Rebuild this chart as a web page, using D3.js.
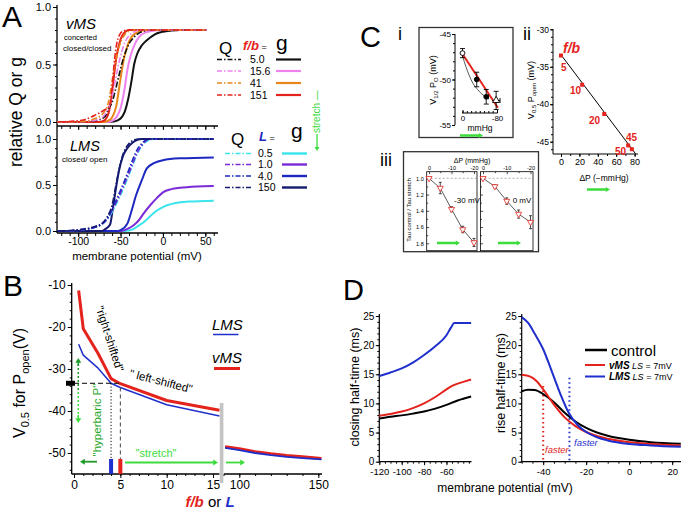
<!DOCTYPE html>
<html>
<head>
<meta charset="utf-8">
<script src="https://cdn.jsdelivr.net/npm/d3@7/dist/d3.min.js"></script>
<style>html,body{margin:0;padding:0;background:#fff;}</style>
</head>
<body>
<svg id="chart" width="683" height="513"></svg>
<script>
// ================= DATA =================
// Panel A top (vMS): [membrane potential mV, relative value]
const vmsFb = ["5.0", "15.6", "41", "151"];
const vmsQ5   = [[-125,0],[-90,0.005],[-75,0.02],[-68,0.05],[-64,0.12],[-60,0.17],[-56,0.28],[-52,0.4],[-48,0.52],[-44,0.61],[-40,0.68],[-35,0.73],[-30,0.765],[-25,0.785],[-15,0.8],[52,0.8]];
const vmsQ15  = [[-125,0],[-90,0.005],[-75,0.025],[-68,0.07],[-62,0.17],[-57,0.33],[-53,0.48],[-49,0.6],[-45,0.69],[-40,0.75],[-35,0.78],[-28,0.8],[52,0.8]];
const vmsQ41  = [[-125,0],[-95,0.005],[-80,0.03],[-70,0.08],[-64,0.18],[-59,0.4],[-55,0.56],[-51,0.67],[-46,0.75],[-40,0.79],[-33,0.8],[52,0.8]];
const vmsQ151 = [[-125,0],[-105,0.008],[-93,0.02],[-80,0.06],[-70,0.1],[-63,0.14],[-60,0.3],[-57,0.55],[-54,0.7],[-51,0.76],[-47,0.79],[-42,0.8],[52,0.8]];
const vmsG5   = [[-125,0],[-65,0],[-58,0.004],[-54,0.012],[-50,0.03],[-45,0.09],[-41,0.2],[-37,0.36],[-34,0.5],[-30,0.6],[-25,0.665],[-20,0.705],[-15,0.735],[-10,0.76],[0,0.785],[10,0.795],[20,0.8],[52,0.8]];
const vmsG15  = [[-125,0],[-65,0],[-60,0.01],[-55,0.04],[-50,0.12],[-45,0.3],[-42,0.45],[-38,0.58],[-33,0.68],[-28,0.74],[-20,0.78],[-10,0.795],[0,0.8],[52,0.8]];
const vmsG41  = [[-125,0],[-70,0],[-65,0.01],[-60,0.04],[-55,0.14],[-50,0.38],[-46,0.55],[-42,0.66],[-37,0.74],[-30,0.78],[-20,0.8],[52,0.8]];
const vmsG151 = [[-125,0],[-76,0],[-72,0.005],[-68,0.02],[-64,0.08],[-60,0.25],[-57,0.45],[-54,0.6],[-50,0.72],[-45,0.78],[-40,0.8],[52,0.8]];

// Panel A bottom (LMS)
const lmsL = ["0.5", "1.0", "4.0", "150"];
const lmsQ05  = [[-125,0],[-105,0.005],[-90,0.02],[-80,0.04],[-72,0.07],[-65,0.13],[-58,0.24],[-52,0.35],[-46,0.47],[-40,0.61],[-35,0.73],[-30,0.84],[-25,0.92],[-20,0.97],[-15,0.99],[-10,1],[60,1]];
const lmsQ1   = [[-125,0],[-105,0.005],[-90,0.02],[-80,0.04],[-72,0.075],[-65,0.14],[-58,0.26],[-52,0.37],[-46,0.5],[-40,0.63],[-35,0.75],[-30,0.86],[-25,0.93],[-20,0.98],[-15,1],[60,1]];
const lmsQ4   = [[-125,0],[-105,0.005],[-90,0.02],[-80,0.04],[-72,0.08],[-65,0.15],[-58,0.28],[-52,0.4],[-46,0.53],[-40,0.67],[-35,0.79],[-30,0.89],[-25,0.95],[-20,0.99],[-15,1],[60,1]];
const lmsQ150 = [[-125,0],[-110,0.005],[-95,0.02],[-80,0.05],[-72,0.08],[-66,0.15],[-60,0.28],[-55,0.52],[-50,0.74],[-46,0.86],[-40,0.95],[-34,0.99],[-28,1],[60,1]];
const lmsG05  = [[-125,0],[-45,0],[-40,0.005],[-35,0.02],[-30,0.05],[-22,0.1],[-15,0.16],[-9,0.21],[0,0.26],[5,0.28],[15,0.305],[30,0.32],[60,0.33]];
const lmsG1   = [[-125,0],[-50,0],[-45,0.01],[-40,0.03],[-35,0.06],[-30,0.1],[-22,0.2],[-15,0.28],[-7,0.36],[0,0.42],[10,0.455],[20,0.47],[40,0.485],[60,0.49]];
const lmsG4   = [[-125,0],[-55,0],[-50,0.01],[-42,0.08],[-37,0.22],[-32,0.38],[-25,0.55],[-19,0.68],[-10,0.74],[0,0.77],[20,0.79],[60,0.8]];
const lmsG150 = [[-125,0],[-72,0],[-68,0.02],[-64,0.05],[-62,0.08],[-59,0.25],[-56,0.43],[-52,0.65],[-47,0.82],[-42,0.9],[-36,0.96],[-30,0.99],[-25,1],[60,1]];
const aXTicks = [-100, -50, 0, 50];
const aYTicks = [0, 0.5, 1];

// Panel B: f/b or L vs V0.5
const bX1   = [0.5, 1, 2.6, 4, 5, 10, 15.7];
const bVms1 = [-11.3, -20.4, -26.3, -32.3, -33.5, -37.5, -39.8];
const bLms1 = [-24.1, -26.7, -29.8, -33.4, -34.4, -38.5, -41.2];
const bX2   = [91, 100, 110, 120, 130, 140, 152];
const bVms2 = [-48.5, -49.0, -49.7, -50.2, -50.6, -50.9, -51.3];
const bLms2 = [-48.8, -49.3, -50.0, -50.5, -50.9, -51.2, -51.5];
const bXTicks1 = [0, 5, 10, 15];
const bXTicks2 = [100, 150];
const bYTicks = [-10, -20, -30, -40, -50];

// Panel C i
const ciP = [0, -33, -55, -78];
const ciV = [-47.1, -50.0, -51.9, -52.3];
const ciErrV = [0.5, 0.8, 0.8, 1.0];
const ciErrP = [0, 0, 5, 9];
const ciFitP = [0, -82];
const ciFitV = [-47.2, -53.1];
const ciCurveP = [0, -8, -16, -24, -35, -45, -55];
const ciCurveV = [-47.4, -48.6, -49.6, -50.4, -51.1, -51.6, -51.9];
// Panel C ii
const ciiP = [0, 23, 47, 73, 77];
const ciiV = [-33.5, -37.4, -41.3, -45.5, -46.0];
const ciiLbl = ["5", "10", "20", "45", "50"];
const ciiFitP = [0, 81];
const ciiFitV = [-33.4, -46.6];
// Panel C iii
const ciiiP = [0, -5, -10, -15, -20];
const ciiiM30 = [1.0, 1.12, 1.38, 1.63, 1.79];
const ciiiM30Err = [0, 0.07, 0.03, 0.04, 0.05];
const ciii0 = [1.0, 1.10, 1.28, 1.44, 1.54];
const ciii0Err = [0, 0.02, 0.04, 0.05, 0.08];

// Panel D left: closing half-time (ms)
const dClControl = [[-120,7.4],[-110,7.7],[-100,7.95],[-90,8.25],[-80,8.6],[-70,9.1],[-60,9.75],[-50,10.5],[-45,10.8],[-38,11.2]];
const dClVms     = [[-120,7.9],[-110,8.2],[-100,8.6],[-90,9.2],[-80,10.0],[-70,11.1],[-60,12.4],[-55,13.0],[-50,13.4],[-45,13.7],[-38,14.1]];
const dClLms     = [[-120,14.7],[-110,15.3],[-100,16.0],[-90,17.0],[-80,18.3],[-70,19.8],[-60,21.7],[-56,23.0],[-53,23.8],[-45,23.8],[-38,23.8]];
// Panel D right: rise half-time (ms)
const dRiControl = [[-50,12.1],[-47,12.35],[-44,12.3],[-40,11.6],[-35,10.2],[-30,8.4],[-25,6.9],[-20,5.8],[-15,5.0],[-10,4.45],[-5,4.05],[0,3.75],[10,3.35],[24,3.1]];
const dRiVms     = [[-50,14.9],[-46,14.6],[-43,13.8],[-40,12.4],[-35,9.8],[-30,7.6],[-25,6.1],[-20,5.1],[-15,4.4],[-10,3.95],[0,3.35],[10,3.05],[24,2.8]];
const dRiLms     = [[-50,24.8],[-47,23.8],[-44,22.0],[-40,19.3],[-36,15.5],[-32,11.6],[-28,8.3],[-24,6.3],[-20,5.1],[-15,4.2],[-10,3.65],[0,3.05],[10,2.8],[24,2.55]];
const dYTicks = [0, 5, 10, 15, 20, 25];
const dXTicksL = [-120, -100, -80, -60];
const dXTicksR = [-40, -20, 0, 20];

// ================= DRAWING =================
const FONT = '"Liberation Sans", Arial, Helvetica, sans-serif';
const RED = "#e3231c", BLUE = "#1f2fcc", GREEN = "#3ddc3d", DKGREEN = "#1f9a2a";
const svg = d3.select("#chart");
svg.append("rect").attr("width", 683).attr("height", 513).attr("fill", "#fff");

function T(p, x, y, s, fs, o = {}) {
  const t = p.append("text").attr("x", x).attr("y", y).attr("font-size", fs)
    .attr("font-family", FONT).attr("fill", o.fill || "#000").text(s);
  if (o.anchor) t.attr("text-anchor", o.anchor);
  if (o.italic) t.attr("font-style", "italic");
  if (o.bold) t.attr("font-weight", "bold");
  if (o.rotate != null) t.attr("transform", `rotate(${o.rotate},${x},${y})`);
  return t;
}
function rich(p, x, y, parts, o = {}) {
  const t = p.append("text").attr("x", x).attr("y", y).attr("font-family", FONT);
  if (o.anchor) t.attr("text-anchor", o.anchor);
  if (o.rotate != null) t.attr("transform", `rotate(${o.rotate},${x},${y})`);
  parts.forEach(pt => {
    const s = t.append("tspan").text(pt.s).attr("font-size", pt.fs).attr("fill", pt.fill || "#000");
    if (pt.italic) s.attr("font-style", "italic");
    if (pt.bold) s.attr("font-weight", "bold");
    if (pt.dy) s.attr("dy", pt.dy);
  });
  return t;
}
function L(p, x1, y1, x2, y2, c = "#000", w = 1, dash = null) {
  return p.append("line").attr("x1", x1).attr("y1", y1).attr("x2", x2).attr("y2", y2)
    .attr("stroke", c).attr("stroke-width", w).attr("stroke-dasharray", dash);
}
function curve(p, data, x, y, color, w, dash, cv) {
  p.append("path").datum(data)
    .attr("d", d3.line().x(d => x(d[0])).y(d => y(d[1])).curve(cv || d3.curveMonotoneX))
    .attr("fill", "none").attr("stroke", color).attr("stroke-width", w)
    .attr("stroke-dasharray", dash || null).attr("stroke-linejoin", "round");
}
function arrow(p, x1, y1, x2, y2, c, w, hs, dash) {
  const dx = x2 - x1, dy = y2 - y1, len = Math.hypot(dx, dy), ux = dx / len, uy = dy / len;
  const hl = hs * 1.6;
  L(p, x1, y1, x2 - ux * hl * 0.8, y2 - uy * hl * 0.8, c, w, dash);
  const bx = x2 - ux * hl, by = y2 - uy * hl;
  p.append("polygon").attr("points", `${x2},${y2} ${bx - uy * hs},${by + ux * hs} ${bx + uy * hs},${by - ux * hs}`).attr("fill", c);
}
const gens = { left: d3.axisLeft, right: d3.axisRight, top: d3.axisTop, bottom: d3.axisBottom };
function axis(p, orient, scale, pos, o) {
  const vert = orient === "left" || orient === "right";
  const tr = vert ? `translate(${pos},0)` : `translate(0,${pos})`;
  if (o.minor) {
    const m = p.append("g").attr("transform", tr)
      .call(gens[orient](scale).tickValues(o.minor).tickSize(o.minorSize ?? 2).tickFormat(""));
    m.select(".domain").remove();
    m.selectAll("line").attr("stroke", "#000").attr("stroke-width", o.sw ?? 1);
  }
  const a = p.append("g").attr("transform", tr)
    .call(gens[orient](scale).tickValues(o.values).tickSize(o.size ?? 4).tickPadding(o.pad ?? 2)
      .tickFormat(o.labels === false ? "" : (o.fmt || (d => String(d)))));
  a.select(".domain").remove();
  a.attr("font-family", FONT).attr("font-size", o.fs ?? 11);
  a.selectAll("line").attr("stroke", "#000").attr("stroke-width", o.sw ?? 1);
  a.selectAll("text").attr("fill", "#000");
  return a;
}
const tenths = d3.range(0, 11).map(i => i / 10);

// ---------- Panel A ----------
const A = svg.append("g");
const xA = d3.scaleLinear().domain([-125, 65]).range([57, 218]);
const yAt = d3.scaleLinear().domain([0, 1]).range([122, 7]);
const yAb = d3.scaleLinear().domain([0, 1]).range([231, 139]);
L(A, 57, 5, 57, 233, "#000", 1.3);
L(A, 57, 126, 218, 126, "#000", 1.3);
L(A, 57, 233, 218, 233, "#000", 1.3);
axis(A, "left", yAt, 57, { values: aYTicks, size: 4, fmt: d => d.toFixed(1), fs: 11, minor: tenths });
axis(A, "left", yAb, 57, { values: aYTicks, size: 4, fmt: d => d.toFixed(1), fs: 11, minor: tenths });
axis(A, "bottom", xA, 126, { values: aXTicks, size: 4, labels: false, minor: d3.range(-120, 61, 10), minorSize: 3 });
axis(A, "bottom", xA, 233, { values: aXTicks, size: 4, pad: 1, fs: 10.5, minor: d3.range(-120, 61, 10), minorSize: 3 });

const vmsColors = ["#111111", "#ee82ee", "#e8861c", RED];
const lmsColors = ["#3ae4ec", "#7a2ad6", "#1c28c0", "#141a6e"];
const DD = "6,2,1.5,2";
[vmsG5, vmsG15, vmsG41, vmsG151].forEach((d, i) => curve(A, d, xA, yAt, vmsColors[i], 2));
[vmsQ5, vmsQ15, vmsQ41, vmsQ151].forEach((d, i) => curve(A, d, xA, yAt, vmsColors[i], 1.6, DD));
[lmsG05, lmsG1, lmsG4, lmsG150].forEach((d, i) => curve(A, d, xA, yAb, lmsColors[i], 2));
[lmsQ05, lmsQ1, lmsQ4, lmsQ150].forEach((d, i) => curve(A, d, xA, yAb, lmsColors[i], 1.6, DD));

T(A, 2, 27, "A", 30);
T(A, 22, 112, "relative Q or g", 17.5, { anchor: "middle", rotate: -90 });
T(A, 137, 260, "membrane potential (mV)", 11.5, { anchor: "middle" });
T(A, 66, 29, "vMS", 15, { italic: true });
T(A, 64, 40, "concerted", 7.5);
T(A, 63, 51, "closed/closed", 8);
T(A, 70, 151, "LMS", 14.5, { italic: true });
T(A, 62, 162, "closed/ open", 8);

// legends A
T(A, 219, 54, "Q", 17);
rich(A, 243, 50, [{ s: "f/b", fs: 13, bold: true, italic: true, fill: RED }, { s: " =", fs: 9 }]);
T(A, 276, 50, "g", 21);
vmsFb.forEach((s, i) => {
  const yy = [59.5, 71, 83, 95][i];
  L(A, 217, yy, 241, yy, vmsColors[i], 1.6, "5,2,1.5,2");
  T(A, 250, yy + 3.5, s, 10.5);
  L(A, 276, yy, 301, yy, vmsColors[i], 2.2);
});
T(A, 231, 145, "Q", 17);
rich(A, 259, 141, [{ s: "L", fs: 13, bold: true, italic: true, fill: "#1c28c0" }, { s: " =", fs: 9 }]);
T(A, 291, 138, "g", 21);
lmsL.forEach((s, i) => {
  const yy = [153.5, 164.5, 176, 187.5][i];
  L(A, 225, yy, 253, yy, lmsColors[i], 1.6, "5,2,1.5,2");
  T(A, 258, yy + 3.5, s, 10.5);
  L(A, 282, yy, 307, yy, lmsColors[i], 2.4);
});
T(A, 320, 133, "stretch \u2014", 10, { rotate: -90, fill: GREEN });
arrow(A, 317, 134, 317, 151, GREEN, 1.3, 2.5);

// ---------- Panel B ----------
const B = svg.append("g");
const xB1 = d3.scaleLinear().domain([0, 16]).range([74, 222.3]);
const xB2 = d3.scaleLinear().domain([100, 150]).range([239.3, 318.3]);
const yB = d3.scaleLinear().domain([-10, -50]).range([285, 453]);
L(B, 71.7, 283, 71.7, 474, "#000", 1.3);
L(B, 71.7, 474, 219.5, 474, "#000", 1.3);
L(B, 224, 474, 322, 474, "#000", 1.3);
axis(B, "left", yB, 71.7, { values: bYTicks, size: 4, fs: 12, minor: d3.range(-54, -9, 2) });
axis(B, "bottom", xB1, 474, { values: bXTicks1, size: 4, fs: 12, minor: d3.range(0, 17, 1) });
axis(B, "bottom", xB2, 474, { values: bXTicks2, size: 4, fs: 12, minor: d3.range(90, 151, 10) });

const bl1 = bX1.map((v, i) => [v, bLms1[i]]), br1 = bX1.map((v, i) => [v, bVms1[i]]);
const bl2 = bX2.map((v, i) => [v, bLms2[i]]), br2 = bX2.map((v, i) => [v, bVms2[i]]);
curve(B, br1, xB1, yB, RED, 3, null, d3.curveLinear);
curve(B, bl1, xB1, yB, BLUE, 1.5, null, d3.curveLinear);
curve(B, br2, xB2, yB, RED, 3, null, d3.curveLinear);
curve(B, bl2, xB2, yB, BLUE, 1.8, null, d3.curveLinear);

B.append("rect").attr("x", 219.8).attr("y", 403).attr("width", 3.6).attr("height", 80).attr("fill", "#c4c4c4");
// reference lines
L(B, 74, yB(-33.4), xB1(5), yB(-33.4), "#000", 1, "5,3");
B.append("rect").attr("x", 66).attr("y", yB(-33.4) - 2.5).attr("width", 9).attr("height", 5).attr("fill", "#000");
L(B, xB1(4), yB(-33.4), xB1(4), 459, "#000", 1, "1.2,2");
L(B, xB1(5), yB(-34.4), xB1(5), 459, "#444", 1, "4,3");
B.append("rect").attr("x", xB1(4) - 2).attr("y", 459).attr("width", 4).attr("height", 15).attr("fill", BLUE);
B.append("rect").attr("x", xB1(5) - 2).attr("y", 459).attr("width", 4).attr("height", 15).attr("fill", RED);
// green annotations
L(B, 78.3, 364, 78.3, 392, DKGREEN, 1.5, "2,2");
L(B, 78.3, 392, 78.3, 417, GREEN, 1.5, "2,2");
arrow(B, 78.3, 366, 78.3, 358, DKGREEN, 1.5, 3);
arrow(B, 78.3, 415, 78.3, 423, GREEN, 1.5, 3);
T(B, 101, 420, "\"hyperbaric P\"", 11.5, { anchor: "middle", rotate: -90, fill: "#2aa82a" });
arrow(B, 97, 461.7, 80, 461.7, DKGREEN, 1.8, 3);
arrow(B, 125, 462.5, 218, 462.5, GREEN, 1.8, 3);
arrow(B, 226, 462.5, 245, 462.5, GREEN, 1.8, 3);
T(B, 156, 457, "\"stretch\"", 11, { anchor: "middle", fill: GREEN });
// text
T(B, 106, 340, "\"right-shifted\"", 11.5, { anchor: "middle", rotate: 72 });
T(B, 160, 385, "\" left-shifted\"", 11.5, { anchor: "middle", rotate: 14.5 });
T(B, 212, 330, "LMS", 15, { italic: true });
L(B, 213, 334.5, 238.5, 334.5, BLUE, 1.5);
T(B, 212, 363, "vMS", 15, { italic: true });
L(B, 214, 368.5, 240, 368.5, RED, 3);
T(B, 3, 296, "B", 30);
rich(B, 25, 383, [
  { s: "V", fs: 16 }, { s: "0.5", fs: 11, dy: 4 }, { s: " for  P", fs: 16, dy: -4 },
  { s: "open", fs: 11, dy: 4 }, { s: "(V)", fs: 16, dy: -4 }
], { anchor: "middle", rotate: -90 });
rich(B, 210, 507, [
  { s: "f/b", fs: 15, bold: true, italic: true, fill: RED }, { s: " or ", fs: 15 },
  { s: "L", fs: 15, bold: true, italic: true, fill: BLUE }
], { anchor: "middle" });

// ---------- Panel C ----------
const C = svg.append("g");
T(C, 360, 47, "C", 29);
T(C, 398, 40, "i", 18);
T(C, 523, 40, "ii", 18);
T(C, 380, 166, "iii", 18);

// C i
C.append("rect").attr("x", 419).attr("y", 27.5).attr("width", 94).attr("height", 110)
  .attr("fill", "none").attr("stroke", "#333").attr("stroke-width", 1.3);
const xCi = d3.scaleLinear().domain([0, -80]).range([462.5, 497]);
const yCi = d3.scaleLinear().domain([-45, -55]).range([34, 125]);
L(C, 455, 34, 455, 125, "#000", 1);
axis(C, "left", yCi, 455, { values: [-45, -50, -55], size: 3, fs: 8, pad: 1, minor: d3.range(-55, -44, 1) });
L(C, 462, 113, 497.5, 113, "#000", 1);
axis(C, "bottom", xCi, 113, { values: [0, -80], size: -3, fs: 8, pad: 2, minor: d3.range(-80, 1, 10), minorSize: -2 });
T(C, 480, 131, "mmHg", 8.5, { anchor: "middle" });
rich(C, 436, 80, [{ s: "V", fs: 9 }, { s: "1/2", fs: 6, dy: 2 }, { s: " P", fs: 9, dy: -2 }, { s: "O", fs: 6, dy: 2 }, { s: " (mV)", fs: 9, dy: -2 }], { anchor: "middle", rotate: -90 });
curve(C, ciCurveP.map((p, i) => [p, ciCurveV[i]]), xCi, yCi, "#444", 0.9);
curve(C, ciFitP.map((p, i) => [p, ciFitV[i]]), xCi, yCi, RED, 2, null, d3.curveLinear);
ciP.forEach((p, i) => {
  const cx = xCi(p), cy = yCi(ciV[i]);
  if (ciErrV[i]) {
    const y1 = yCi(ciV[i] + ciErrV[i]), y2 = yCi(ciV[i] - ciErrV[i]);
    L(C, cx, y1, cx, y2, "#000", 0.9); L(C, cx - 2.5, y1, cx + 2.5, y1, "#000", 0.9); L(C, cx - 2.5, y2, cx + 2.5, y2, "#000", 0.9);
  }
  if (ciErrP[i]) {
    const x1 = xCi(p + ciErrP[i]), x2 = xCi(p - ciErrP[i]);
    L(C, x1, cy, x2, cy, "#000", 0.9); L(C, x2, cy - 2.5, x2, cy + 2.5, "#000", 0.9);
  }
});
ciP.forEach((p, i) => {
  if (i === 3) {
    C.append("path").attr("d", d3.symbol(d3.symbolTriangle).size(22)()).attr("transform", `translate(${xCi(p)},${yCi(ciV[i])})`)
      .attr("fill", "#fff").attr("stroke", "#000").attr("stroke-width", 0.9);
  } else {
    C.append("circle").attr("cx", xCi(p)).attr("cy", yCi(ciV[i])).attr("r", 2.4)
      .attr("fill", i === 0 ? "#fff" : "#000").attr("stroke", "#000").attr("stroke-width", 0.9);
  }
});
arrow(C, 460, 135.5, 483, 135.5, GREEN, 2.5, 2.6);

// C ii
const xCii = d3.scaleLinear().domain([0, 80]).range([561, 634.6]);
const yCii = d3.scaleLinear().domain([-30, -45]).range([29.3, 141.7]);
L(C, 553, 29, 553, 154, "#000", 1);
L(C, 553, 154, 638, 154, "#000", 1);
axis(C, "left", yCii, 553, { values: [-30, -35, -40, -45], size: 3, fs: 8.5, pad: 1, minor: d3.range(-46, -29, 1) });
axis(C, "bottom", xCii, 154, { values: [0, 20, 40, 60, 80], size: 3, fs: 9, pad: 2, minor: d3.range(0, 81, 10) });
rich(C, 534, 90, [{ s: "V", fs: 9 }, { s: "0.5", fs: 6, dy: 2 }, { s: " P", fs: 9, dy: -2 }, { s: "open", fs: 6, dy: 2 }, { s: " (mV)", fs: 9, dy: -2 }], { anchor: "middle", rotate: -90 });
T(C, 604, 181, "\u0394P (\u2212mmHg)", 8.5, { anchor: "middle" });
curve(C, ciiFitP.map((p, i) => [p, ciiFitV[i]]), xCii, yCii, "#000", 1, null, d3.curveLinear);
ciiP.forEach((p, i) => {
  C.append("rect").attr("x", xCii(p) - 2).attr("y", yCii(ciiV[i]) - 2).attr("width", 4).attr("height", 4).attr("fill", RED);
});
const lblPos = [[561, 71], [570, 94], [589, 124], [626, 141], [615, 155]];
ciiLbl.forEach((s, i) => T(C, lblPos[i][0], lblPos[i][1], s, 10, { bold: true, fill: RED }));
T(C, 563, 53, "f/b", 14, { bold: true, italic: true, fill: RED });
arrow(C, 587, 189.5, 610, 189.5, GREEN, 2.5, 2.6);

// C iii
C.append("rect").attr("x", 403.5).attr("y", 151.7).attr("width", 135).attr("height", 100)
  .attr("fill", "none").attr("stroke", "#333").attr("stroke-width", 1.3);
const yCiii = d3.scaleLinear().domain([1.0, 1.8]).range([178.3, 243.3]);
const xL = d3.scaleLinear().domain([0, -20]).range([429, 474]);
const xR = d3.scaleLinear().domain([0, -20]).range([483, 530.5]);
[[426.7, 477, xL], [480.5, 533, xR]].forEach(([x0, x1, xs], k) => {
  C.append("rect").attr("x", x0).attr("y", 171.7).attr("width", x1 - x0).attr("height", 79)
    .attr("fill", "none").attr("stroke", "#000").attr("stroke-width", 0.8);
  axis(C, "top", xs, 171.7, { values: [0, -10, -20], size: -2.5, fs: 5.5, pad: 1.5, minor: [-5, -15], minorSize: -1.5, sw: 0.7 });
  axis(C, "left", yCiii, x0, { values: [1.0, 1.2, 1.4, 1.6, 1.8], size: -2.5, labels: k === 0, fmt: d => d.toFixed(1), fs: 5.5, pad: 3, minor: [1.1, 1.3, 1.5, 1.7], minorSize: -1.5, sw: 0.7 });
  L(C, x0, yCiii(1.0), x1, yCiii(1.0), "#888", 0.7, "2,2");
});
T(C, 472, 163, "\u0394P (mmHg)", 7, { anchor: "middle" });
T(C, 411, 210, "Tau control / Tau stretch", 6, { anchor: "middle", rotate: -90 });
T(C, 467, 203, "-30 mV", 8, { anchor: "middle" });
T(C, 522, 203, "0 mV", 8, { anchor: "middle" });
[[xL, ciiiM30, ciiiM30Err], [xR, ciii0, ciii0Err]].forEach(([xs, vals, errs]) => {
  curve(C, ciiiP.map((p, i) => [p, vals[i]]), xs, yCiii, "#333", 0.8, null, d3.curveLinear);
  ciiiP.forEach((p, i) => {
    const cx = xs(p);
    if (errs[i]) {
      const y1 = yCiii(vals[i] - errs[i]), y2 = yCiii(vals[i] + errs[i]);
      L(C, cx, y1, cx, y2, "#000", 0.7); L(C, cx - 1.5, y1, cx + 1.5, y1, "#000", 0.7); L(C, cx - 1.5, y2, cx + 1.5, y2, "#000", 0.7);
    }
    C.append("path").attr("d", d3.symbol(d3.symbolTriangle).size(16)())
      .attr("transform", `translate(${cx},${yCiii(vals[i])}) rotate(180)`)
      .attr("fill", "#fff").attr("stroke", RED).attr("stroke-width", 0.8);
  });
});
arrow(C, 437, 243, 460, 243, GREEN, 2.5, 2.6);
arrow(C, 498, 243, 521, 243, GREEN, 2.5, 2.6);

// ---------- Panel D ----------
const D = svg.append("g");
const yD = d3.scaleLinear().domain([0, 25]).range([461.7, 316]);
const xDl = d3.scaleLinear().domain([-120, -38]).range([379.3, 471.1]);
const xDr = d3.scaleLinear().domain([-50, 24]).range([521.7, 680.8]);
L(D, 379.3, 314, 379.3, 461.7, "#000", 1.2);
L(D, 379.3, 461.7, 471.5, 461.7, "#000", 1.2);
L(D, 521.7, 314, 521.7, 461.7, "#000", 1.2);
L(D, 521.7, 461.7, 681, 461.7, "#000", 1.2);
axis(D, "left", yD, 379.3, { values: dYTicks, size: 3.5, fs: 10, pad: 1.5, minor: d3.range(0, 26, 1) });
axis(D, "left", yD, 521.7, { values: dYTicks, size: 3.5, fs: 10, pad: 1.5, minor: d3.range(0, 26, 1) });
axis(D, "bottom", xDl, 461.7, { values: dXTicksL, size: 3.5, fs: 9.5, pad: 3, minor: d3.range(-120, -37, 5) });
axis(D, "bottom", xDr, 461.7, { values: dXTicksR, size: 3.5, fs: 9.5, pad: 3, minor: d3.range(-50, 25, 5) });
curve(D, dClControl, xDl, yD, "#000", 2);
curve(D, dClVms, xDl, yD, RED, 2);
curve(D, dClLms, xDl, yD, BLUE, 2);
L(D, xDr(-40), yD(13), xDr(-40), yD(0), RED, 2, "1.5,3");
L(D, xDr(-27.8), yD(14.4), xDr(-27.8), yD(0), BLUE, 2, "1.5,3");
curve(D, dRiControl, xDr, yD, "#000", 2);
curve(D, dRiVms, xDr, yD, RED, 2);
curve(D, dRiLms, xDr, yD, BLUE, 2);
T(D, 545, 453, "faster", 9.5, { italic: true, fill: RED });
T(D, 574, 446, "faster", 9.5, { italic: true, fill: BLUE });
T(D, 343, 300, "D", 29);
T(D, 359, 387, "closing half-time (ms)", 12.5, { anchor: "middle", rotate: -90 });
T(D, 505, 383, "rise half-time (ms)", 12.5, { anchor: "middle", rotate: -90 });
T(D, 505, 492, "membrane potential (mV)", 12, { anchor: "middle" });
L(D, 585, 350, 607, 350, "#000", 2.5);
T(D, 611, 355.5, "control", 15);
L(D, 585, 365, 605, 365, RED, 2);
rich(D, 609, 368.5, [{ s: "vMS", fs: 10, bold: true, italic: true }, { s: "  LS", fs: 9, italic: true }, { s: " = 7mV", fs: 9 }]);
L(D, 585, 376.5, 605, 376.5, BLUE, 2);
rich(D, 609, 380, [{ s: "LMS", fs: 10, bold: true, italic: true }, { s: " LS", fs: 9, italic: true }, { s: " = 7mV", fs: 9 }]);
</script>
</body>
</html>
